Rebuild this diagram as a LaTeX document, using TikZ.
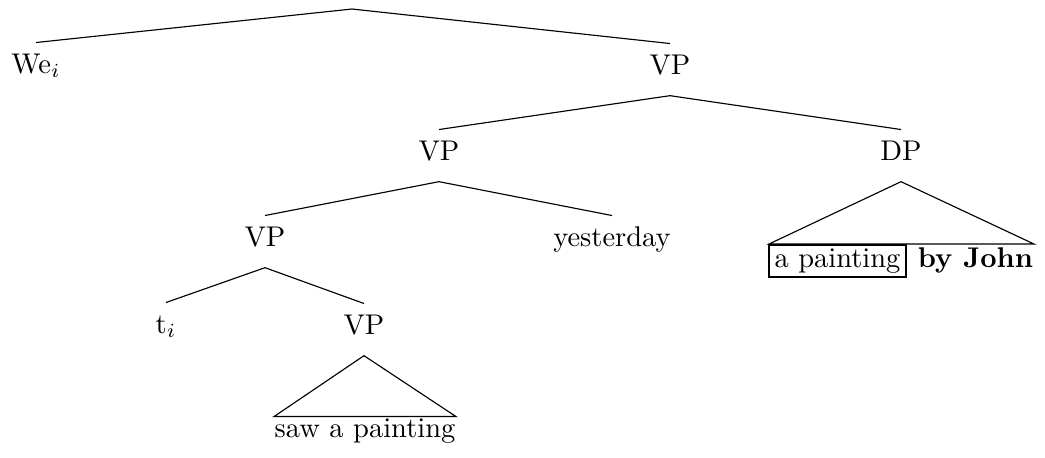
\documentclass[tikz,border=0pt]{standalone}
\begin{document}
\begin{tikzpicture}[x=0.3509pt,y=-0.3509pt,
  tn/.style={anchor=base,text height=7pt,text depth=3.9pt,inner ysep=3.5pt,inner xsep=0pt},
  yld/.style={anchor=base,text height=7pt,text depth=2pt,inner sep=0pt},
  boxed/.style={anchor=base,draw,line width=0.6pt,text height=6.2pt,text depth=2pt,inner ysep=1.6pt,inner xsep=1.9pt},
  edge/.style={line width=0.4pt}]
\useasboundingbox (0,0) rectangle (1045,457);
\coordinate (root) at (352,9);
\node[tn] (we) at (36,73) {We$_i$};
\node[tn] (vp1) at (670,74) {VP};
\node[tn] (vp2) at (439,160) {VP};
\node[tn] (dp) at (901,160) {DP};
\node[tn] (vp3) at (265,246) {VP};
\node[tn] (yest) at (612,246) {yesterday};
\node[tn] (ti) at (166,333) {t$_i$};
\node[tn] (vp4) at (364,334) {VP};
\node[yld] (saw) at (365,437) {saw a painting};
\node[boxed] (apaint) at (837.5,267) {a painting};
\node[anchor=base,inner sep=0pt] (byjohn) at (975.5,267) {\textbf{by John}};
\coordinate (dpl) at (769,244);
\coordinate (dpr) at (1034,244);
\draw[edge] (we.north) -- (root) -- (vp1.north);
\draw[edge] (vp2.north) -- (vp1.south) -- (dp.north);
\draw[edge] (vp3.north) -- (vp2.south) -- (yest.north);
\draw[edge] (ti.north) -- (vp3.south) -- (vp4.north);
\draw[edge] (vp4.south) -- (saw.north west) -- (saw.north east) -- cycle;
\draw[edge] (dp.south) -- (dpl) -- (dpr) -- cycle;
\end{tikzpicture}
\end{document}
